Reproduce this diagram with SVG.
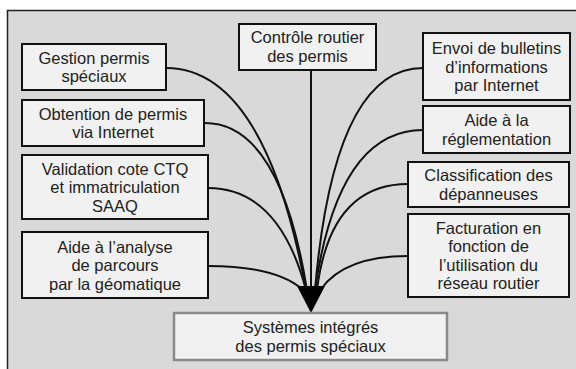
<svg xmlns="http://www.w3.org/2000/svg" width="576" height="369" viewBox="0 0 576 369">
<style>
.box{fill:#f1f1f1;stroke:#111;stroke-width:2}
.main{fill:#f1f1f1;stroke:#8a8a8a;stroke-width:2.5}
text{font-family:"Liberation Sans",Arial,sans-serif;font-size:16.5px;fill:#222;text-anchor:middle}
.c{fill:none;stroke:#111;stroke-width:2}
</style>
<rect x="0" y="0" width="576" height="369" fill="#fff"/>
<rect x="7.5" y="10.5" width="600" height="400" fill="#d9d9d9" stroke="#222" stroke-width="1.5"/>
<g id="connectors">
<path class="c" d="M166,68 Q265,68 306,290"/>
<path class="c" d="M205,123 Q280,123 307,290"/>
<path class="c" d="M208,188 Q279,188 306,290"/>
<path class="c" d="M208,266 Q275,266 302,289"/>
<path class="c" d="M311,70 L311,290"/>
<path class="c" d="M423,68 Q334,68 315,290"/>
<path class="c" d="M423,130 Q338,130 315,290"/>
<path class="c" d="M408,184 Q330,184 317,290"/>
<path class="c" d="M408,256 Q345,256 321,289"/>
<polygon points="297,286 325,286 311,313" fill="#000"/>
</g>
<g id="gestion"><rect class="box" x="22" y="44" width="144" height="46"/><text x="94" y="63.5">Gestion permis</text><text x="94" y="82">spéciaux</text></g>
<g id="obtention"><rect class="box" x="22" y="100" width="182" height="46"/><text x="113" y="119.5">Obtention de permis</text><text x="113" y="138">via Internet</text></g>
<g id="validation"><rect class="box" x="22" y="155" width="186" height="64"/><text x="115" y="174.5">Validation cote CTQ</text><text x="115" y="193">et immatriculation</text><text x="115" y="211.5">SAAQ</text></g>
<g id="aide-analyse"><rect class="box" x="22" y="232" width="186" height="66"/><text x="115" y="252.5">Aide à l’analyse</text><text x="115" y="271">de parcours</text><text x="115" y="289.5">par la géomatique</text></g>
<g id="controle"><rect class="box" x="239" y="24" width="137" height="46"/><text x="307.5" y="43">Contrôle routier</text><text x="307.5" y="61.5">des permis</text></g>
<g id="envoi"><rect class="box" x="423" y="33" width="147" height="67"/><text x="496.5" y="54">Envoi de bulletins</text><text x="496.5" y="72.5">d’informations</text><text x="496.5" y="91">par Internet</text></g>
<g id="aide-reglementation"><rect class="box" x="423" y="106" width="147" height="47"/><text x="496.5" y="126">Aide à la</text><text x="496.5" y="144.5">réglementation</text></g>
<g id="classification"><rect class="box" x="408" y="162" width="161" height="45"/><text x="488.5" y="181">Classification des</text><text x="488.5" y="199.5">dépanneuses</text></g>
<g id="facturation"><rect class="box" x="408" y="214" width="161" height="83"/><text x="488.5" y="233.5">Facturation en</text><text x="488.5" y="252">fonction de</text><text x="488.5" y="270.5">l’utilisation du</text><text x="488.5" y="289">réseau routier</text></g>
<g id="systemes"><rect class="main" x="174" y="313" width="273" height="47"/><text x="310.5" y="333">Systèmes intégrés</text><text x="310.5" y="351.5">des permis spéciaux</text></g>
</svg>
